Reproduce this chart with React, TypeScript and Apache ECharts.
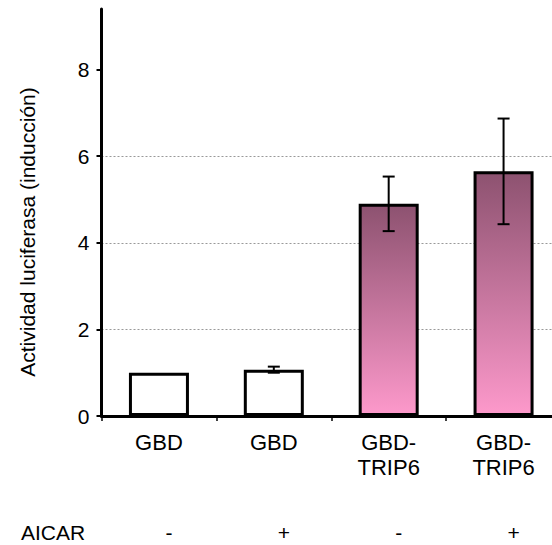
import React, { useEffect, useRef } from 'react';
import * as echarts from 'echarts';

const categories = ['GBD', 'GBD', 'GBD-\nTRIP6', 'GBD-\nTRIP6'];
const aicarSigns = ['-', '+', '-', '+'];
const values = [1.0, 1.07, 4.9, 5.65];
const errors = [0, 0.07, 0.63, 1.22];
const yTicks = [0, 2, 4, 6, 8];
const yTitle = 'Actividad luciferasa (inducción)';
const rowTitle = 'AICAR';

const FONT = '"Liberation Sans", Arial, sans-serif';

export default function App() {
  const ref = useRef<HTMLDivElement>(null);

  useEffect(() => {
    if (!ref.current) return;
    const chart = echarts.init(ref.current, null, { renderer: 'svg' });

    const gradient = new echarts.graphic.LinearGradient(0, 0, 0, 1, [
      { offset: 0, color: '#8D5270' },
      { offset: 1, color: '#FD99CB' },
    ]);

    const barData = values.map((v, i) => ({
      value: v,
      itemStyle: {
        color: categories[i].indexOf('TRIP6') >= 0 ? gradient : '#ffffff',
      },
    }));

    const errData = values
      .map((v, i) => [i, v - errors[i], v + errors[i], errors[i]])
      .filter((d) => d[3] > 0);

    chart.setOption({
      animation: false,
      textStyle: { fontFamily: FONT },
      grid: { left: 101.5, right: 0, top: 9, bottom: 128, containLabel: false },
      xAxis: [
        {
          type: 'category',
          data: categories,
          position: 'bottom',
          axisLine: { show: true, lineStyle: { color: '#000', width: 3 } },
          axisTick: { show: true, length: 5, lineStyle: { color: '#000', width: 1.5 } },
          axisLabel: {
            fontSize: 22,
            lineHeight: 25,
            margin: 14,
            color: '#000',
            fontFamily: FONT,
          },
          splitLine: { show: false },
        },
        {
          type: 'category',
          data: aicarSigns,
          position: 'bottom',
          gridIndex: 0,
          axisLine: { show: false },
          axisTick: { show: false },
          axisLabel: {
            fontSize: 21,
            lineHeight: 25,
            margin: 104,
            color: '#000',
            fontFamily: FONT,
            padding: [0, 0, 0, 20],
          },
          splitLine: { show: false },
        },
      ],
      yAxis: {
        type: 'value',
        min: 0,
        max: 9.4,
        interval: 2,
        axisLine: { show: true, lineStyle: { color: '#000', width: 3 } },
        axisTick: {
          show: true,
          length: 5,
          customValues: yTicks,
          lineStyle: { color: '#000', width: 2 },
        },
        axisLabel: {
          customValues: yTicks,
          fontSize: 21,
          color: '#000',
          margin: 12,
          fontFamily: FONT,
        },
        splitLine: {
          show: true,
          showMinLine: false,
          showMaxLine: false,
          lineStyle: { color: '#999', type: [2, 2], width: 1 },
        },
      },
      graphic: [
        {
          type: 'text',
          x: 27,
          y: 232,
          rotation: Math.PI / 2,
          style: {
            text: yTitle,
            fontSize: 21,
            fontFamily: FONT,
            fill: '#000',
            textAlign: 'center',
            textVerticalAlign: 'middle',
          },
        },
        {
          type: 'text',
          left: 21,
          top: 522,
          style: {
            text: rowTitle,
            fontSize: 21,
            fontFamily: FONT,
            fill: '#000',
          },
        },
      ],
      series: [
        {
          type: 'bar',
          xAxisIndex: 0,
          barWidth: 60,
          data: barData,
          itemStyle: { borderColor: '#000', borderWidth: 3 },
          z: 2,
        },
        {
          type: 'custom',
          xAxisIndex: 0,
          z: 3,
          encode: { x: 0, y: [1, 2] },
          data: errData,
          renderItem: (params: any, api: any) => {
            const x = api.value(0);
            const lo = api.coord([x, api.value(1)]);
            const hi = api.coord([x, api.value(2)]);
            const w = 6;
            const style = { stroke: '#000', lineWidth: 2 };
            return {
              type: 'group',
              children: [
                { type: 'line', shape: { x1: hi[0], y1: hi[1], x2: lo[0], y2: lo[1] }, style },
                { type: 'line', shape: { x1: hi[0] - w, y1: hi[1], x2: hi[0] + w, y2: hi[1] }, style },
                { type: 'line', shape: { x1: lo[0] - w, y1: lo[1], x2: lo[0] + w, y2: lo[1] }, style },
              ],
            };
          },
        },
      ],
    });

    return () => chart.dispose();
  }, []);

  return (
    <div
      style={{
        position: 'absolute',
        left: 0,
        top: 0,
        width: 552,
        height: 545,
        overflow: 'hidden',
        background: '#fff',
      }}
    >
      <div ref={ref} style={{ width: 561, height: 545 }} />
    </div>
  );
}
